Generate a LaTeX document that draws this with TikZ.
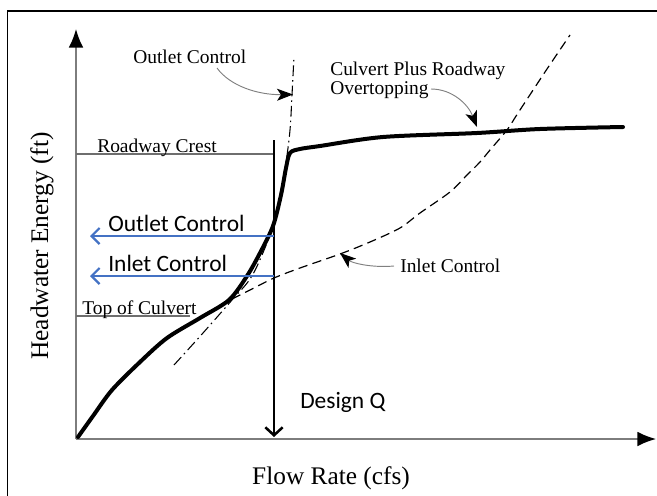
\documentclass[tikz,border=0pt]{standalone}
\usepackage{fontspec}
\setmainfont{Liberation Serif}
\newfontfamily\calib{Carlito}
\usetikzlibrary{arrows.meta}
\definecolor{axisgray}{RGB}{125,125,125}
\definecolor{refgray}{RGB}{110,110,110}
\definecolor{offblue}{RGB}{68,114,196}
\tikzset{
  serlabel/.style={inner sep=0pt, font=\fontsize{14.6}{12.75}\selectfont, anchor=base west},
  sanslabel/.style={inner sep=0pt, font=\calib\fontsize{17.6}{20}\selectfont, anchor=base west},
  axlabel/.style={inner sep=0pt, font=\fontsize{19}{22}\selectfont, anchor=base},
  axisline/.style={draw=axisgray, line width=1.1pt, -{Latex[length=14pt,width=11pt,black]}},
  refline/.style={draw=refgray, line width=0.9pt},
  callout/.style={draw=gray, line width=0.7pt, -{Stealth[length=12pt,width=9pt,black,inset=3pt]}},
  bluearrow/.style={draw=offblue, line width=1.6pt, -{Straight Barb[length=6pt,width=12pt]}},
  designarrow/.style={draw=black, line width=1.9pt, -{Straight Barb[length=6pt,width=13pt]}},
  ratingcurve/.style={draw=black, line width=3pt, line join=round, line cap=round},
  inletcurve/.style={draw=black, line width=0.9pt, dash pattern=on 7pt off 4pt},
  outletcurve/.style={draw=black, line width=0.8pt, dash pattern=on 8pt off 3pt on 1.2pt off 3pt},
}
\begin{document}
\begin{tikzpicture}[x=0.75pt, y=-0.75pt]
\useasboundingbox (0,0) rectangle (657,496);
% frame
\draw[line width=0.9pt] (7.5,496) -- (7.5,11) -- (657,11);
% axes
\coordinate (O) at (76,439);
\coordinate (Ytip) at (76,29);
\coordinate (Xtip) at (656,439);
\draw[axisline] (O) -- (Ytip);
\draw[axisline] (O) -- (Xtip);
% reference lines
\coordinate (RCl) at (76,154);
\coordinate (RCr) at (273,154);
\coordinate (TCl) at (76,316);
\coordinate (TCr) at (190,316);
\draw[refline] (RCl) -- (RCr);
\draw[refline] (TCl) -- (TCr);
\node[serlabel] (rc) at (97,152) {Roadway Crest};
\node[serlabel] (tc) at (82,314) {Top of Culvert};
% outlet control curve (dash-dot)
\draw[outletcurve] plot[smooth, tension=0.6] coordinates {(174,365) (203,333) (232,300) (250,279) (262,255) (272,228) (280,195) (286,162) (290,130) (292,95) (294,56)};
% inlet control curve (dashed)
\draw[inletcurve] plot[smooth, tension=0.5] coordinates {(232,299) (250,290) (274,278) (300,268) (340,254) (370,242) (400,228) (420,213) (450,192) (467,175) (480,162) (490,150) (507,130) (518,113) (545,72) (570,35)};
% rating curve (solid)
\draw[ratingcurve] plot[smooth, tension=0.5] coordinates {(78,437) (93,416) (112,390) (140,362) (167,338) (200,318) (229,300) (247,276) (260,253) (273,226) (281,195) (286,168) (290,153) (300,149) (320,146) (383,137) (477,133) (540,129) (623,127)};
% design Q
\coordinate (DQt) at (274,140);
\coordinate (DQb) at (274,437);
\draw[designarrow] (DQt) -- (DQb);
\node[sanslabel] (dq) at (300,408) {Design Q};
% blue arrows
\coordinate (OCr) at (274,236);
\coordinate (OCl) at (90,236);
\coordinate (ICr) at (274,276);
\coordinate (ICl) at (90,276);
\draw[bluearrow] (OCr) -- (OCl);
\draw[bluearrow] (ICr) -- (ICl);
\node[sanslabel] (oc2) at (108,231) {Outlet Control};
\node[sanslabel] (ic2) at (108,271) {Inlet Control};
% callouts
\node[serlabel] (oc) at (133,63) {Outlet Control};
\coordinate (octip) at (293,94.5);
\draw[callout] (217,68) .. controls (230,86) and (258,95) .. (octip);
\node[serlabel, align=left, anchor=north west] (cp) at (330,62) {Culvert Plus Roadway\\Overtopping};
\coordinate (cptip) at (477,127);
\draw[callout] (431,89) .. controls (452,89) and (468,104) .. (cptip);
\node[serlabel] (ic) at (400,272) {Inlet Control};
\coordinate (ictip) at (340,253);
\draw[callout] (394,266) .. controls (372,268) and (352,263) .. (ictip);
% axis labels
\node[axlabel] (xl) at (331,484) {Flow Rate (cfs)};
\node[axlabel, rotate=90] (yl) at (48,246) {Headwater Energy (ft)};
\end{tikzpicture}
\end{document}
